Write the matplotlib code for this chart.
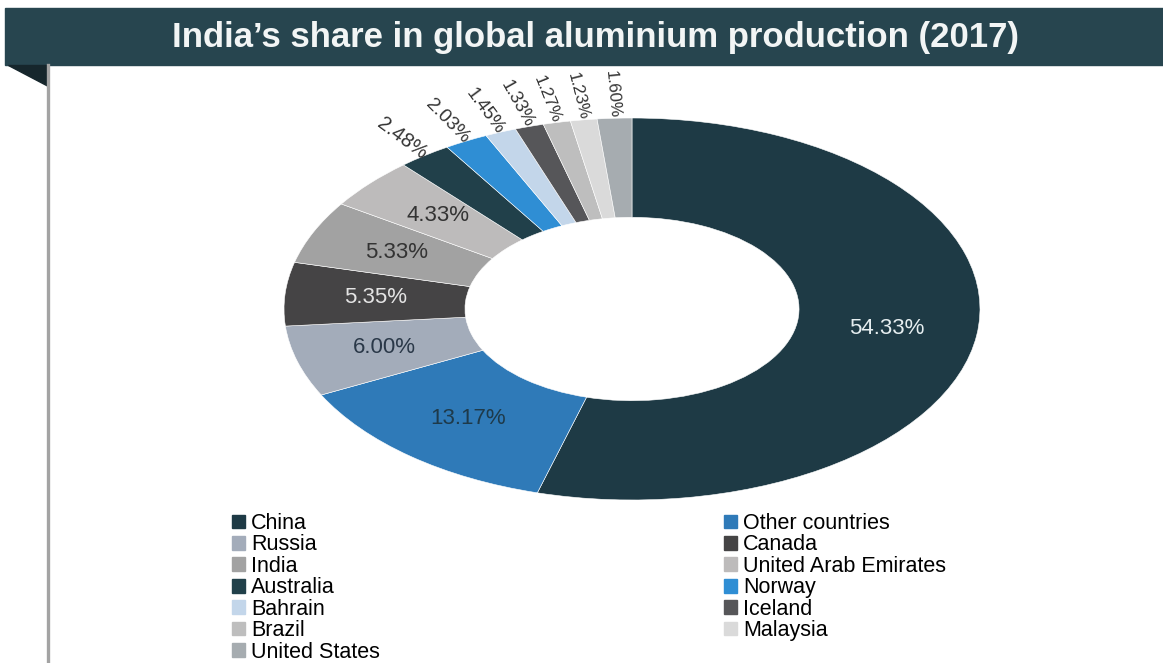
import numpy as np
import matplotlib
matplotlib.use('Agg')
import matplotlib.pyplot as plt
from matplotlib.patches import Rectangle, Polygon, Patch
from matplotlib.lines import Line2D

plt.rcParams['font.family'] = ['Liberation Sans', 'DejaVu Sans']

title = "India\u2019s share in global aluminium production (2017)"

countries = ['China', 'Other countries', 'Russia', 'Canada', 'India',
             'United Arab Emirates', 'Australia', 'Norway', 'Bahrain',
             'Iceland', 'Brazil', 'Malaysia', 'United States']
shares = [54.33, 13.17, 6.00, 5.35, 5.33, 4.33, 2.48, 2.03, 1.45,
          1.33, 1.27, 1.23, 1.60]
colors = ['#1e3a45', '#2f7ab8', '#a3acba', '#454445', '#a2a2a2',
          '#bdbbbb', '#21404a', '#2f8ed4', '#c3d6ea', '#565659',
          '#bebebe', '#dadada', '#a6acb0']
# text colour for labels drawn inside the ring
inside_colors = {'China': '#e6eef0', 'Other countries': '#1e3a4a',
                 'Russia': '#2a3848', 'Canada': '#e4e4e4',
                 'India': '#333333', 'United Arab Emirates': '#333333'}

W, H = 1163, 663
fig = plt.figure(figsize=(W / 100, H / 100), dpi=100)

def fx(px):
    return px / W

def fy(py):
    return 1 - py / H

# title banner
fig.patches.append(Rectangle((fx(5), fy(65)), 1 - fx(5), fy(8) - fy(65),
                             transform=fig.transFigure, color='#27454f', zorder=-1))
fig.patches.append(Polygon([(fx(8), fy(65)), (fx(48), fy(65)), (fx(48), fy(86))],
                           closed=True, transform=fig.transFigure,
                           color='#16262c', zorder=-1))
fig.lines.append(Line2D([fx(48), fx(48)], [fy(65), 0], transform=fig.transFigure,
                        color='#a3a3a3', linewidth=2.4))
fig.text(fx(595), fy(38), title, ha='center', va='center', color='#f2f5f5',
         fontsize=25, fontweight='bold')

# donut (stretched horizontally like the source image)
cx, cy, a, b = 632, 309, 348, 191
ax = fig.add_axes([fx(cx - a), fy(cy + b), 2 * a / W, 2 * b / H])
ax.set_zorder(1)
wedges, _ = ax.pie(shares, colors=colors, startangle=90, counterclock=False,
                   wedgeprops=dict(width=0.52, edgecolor='white', linewidth=0.4))
ax.set_aspect('auto')
ax.set_xlim(-1, 1)
ax.set_ylim(-1, 1)

for w, name, val in zip(wedges, countries, shares):
    mid = np.deg2rad((w.theta1 + w.theta2) / 2)
    c, s = np.cos(mid), np.sin(mid)
    label = f'{val:.2f}%'
    if name in inside_colors:
        ax.text(0.74 * c, 0.74 * s, label, ha='center', va='center',
                fontsize=16, color=inside_colors[name])
    else:
        rot = np.arctan2(-b * s, -a * c)
        # source image is stretched sideways, so slanted labels look longer
        fs = 12 * np.hypot(1.3 * np.cos(rot), np.sin(rot))
        ax.text(1.0 * c, 1.0 * s, label, ha='right', va='center',
                rotation=np.degrees(rot), rotation_mode='anchor', fontsize=fs,
                color='#333333')

# legend in two columns, row-major like the source
left_idx = [0, 2, 4, 6, 8, 10, 12]
right_idx = [1, 3, 5, 7, 9, 11]
for idx, x0 in [(left_idx, 232), (right_idx, 724)]:
    handles = [Patch(color=colors[i]) for i in idx]
    labels = [countries[i] for i in idx]
    fig.legend(handles, labels, loc='upper left',
               bbox_to_anchor=(fx(x0), fy(513)), frameon=False,
               fontsize=15.5, handlelength=0.6, handleheight=0.6,
               handletextpad=0.3, labelspacing=0.02, borderpad=0,
               borderaxespad=0)

fig.savefig('out.png', dpi=100)
